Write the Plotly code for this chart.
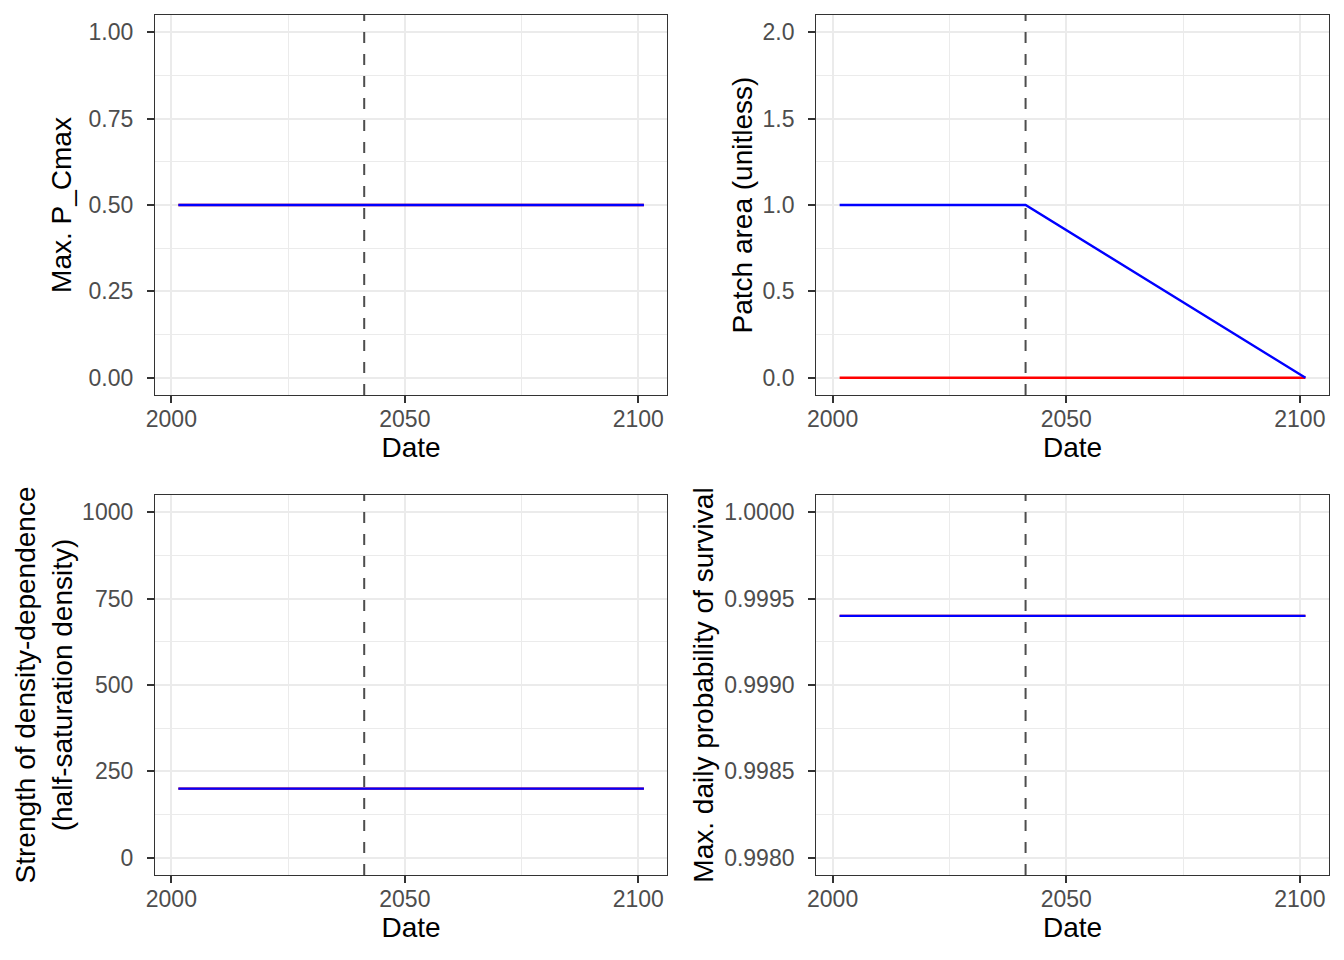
import plotly.graph_objects as go
from plotly.subplots import make_subplots

# ---- data ----
years = [2001.5, 2041.3, 2101.2]
change_year = 2041.3

pcmax_red = [0.5, 0.5, 0.5]
pcmax_blue = [0.5, 0.5, 0.5]

patch_red = [0.0, 0.0, 0.0]
patch_blue = [1.0, 1.0, 0.0]

halfsat_red = [200, 200, 200]
halfsat_blue = [200, 200, 200]

surv_red = [0.9994, 0.9994, 0.9994]
surv_blue = [0.9994, 0.9994, 0.9994]

x_ticks = [2000, 2050, 2100]
x_minor = [2025, 2075]

panels = [
    dict(red=pcmax_red, blue=pcmax_blue, title="Max. P_Cmax",
         ticks=[0, 0.25, 0.5, 0.75, 1.0], minor=[0.125, 0.375, 0.625, 0.875],
         fmt=".2f", rng=[-0.05, 1.05], standoff=8),
    dict(red=patch_red, blue=patch_blue, title="Patch area (unitless)",
         ticks=[0, 0.5, 1.0, 1.5, 2.0], minor=[0.25, 0.75, 1.25, 1.75],
         fmt=".1f", rng=[-0.1, 2.1], standoff=1),
    dict(red=halfsat_red, blue=halfsat_blue,
         title="Strength of density-dependence<br>(half-saturation density)",
         ticks=[0, 250, 500, 750, 1000], minor=[125, 375, 625, 875],
         fmt="d", rng=[-50, 1050], standoff=1),
    dict(red=surv_red, blue=surv_blue, title="Max. daily probability of survival",
         ticks=[0.998, 0.9985, 0.999, 0.9995, 1.0], minor=[0.99825, 0.99875, 0.99925, 0.99975],
         fmt=".4f", rng=[0.9979, 1.0001], standoff=1.5),
]

W, H = 1344, 960
x_dom = [[147 / W, 662.7 / W], [812.7 / W, 1328.7 / W]]
y_dom = [[1 - 395 / H, 1 - 15 / H], [1 - 875 / H, 1 - 495 / H]]

fig = make_subplots(rows=2, cols=2)

FONT = "Liberation Sans, Arial, sans-serif"
GRID = "#EBEBEB"
BORDER = "#333333"

for i, p in enumerate(panels):
    r, c = i // 2 + 1, i % 2 + 1
    fig.add_trace(go.Scatter(x=years, y=p["red"], mode="lines",
                             line=dict(color="red", width=2.4), showlegend=False),
                  row=r, col=c)
    fig.add_trace(go.Scatter(x=years, y=p["blue"], mode="lines",
                             line=dict(color="blue", width=2.4), showlegend=False),
                  row=r, col=c)
    fig.add_vline(x=change_year, line=dict(color="#4D4D4D", width=2, dash="11px,11px"),
                  row=r, col=c)

    common = dict(showline=True, mirror=True, linecolor=BORDER, linewidth=1.3,
                  ticks="outside", ticklen=7, tickwidth=1.5, tickcolor=BORDER,
                  tickfont=dict(family=FONT, size=23, color="#4D4D4D"),
                  showgrid=True, gridcolor=GRID, gridwidth=2, zeroline=False)
    fig.update_xaxes(range=[1996.5, 2106.2], tickvals=x_ticks,
                     ticklabelstandoff=-4,
                     minor=dict(tickvals=x_minor, showgrid=True, gridcolor=GRID, gridwidth=1),
                     domain=x_dom[c - 1],
                     title=dict(text="Date", font=dict(family=FONT, size=28, color="black"),
                                standoff=6),
                     **common, row=r, col=c)
    fig.update_yaxes(range=p["rng"], tickvals=p["ticks"], tickformat=p["fmt"],
                     ticklabelstandoff=9,
                     minor=dict(tickvals=p["minor"], showgrid=True, gridcolor=GRID, gridwidth=1),
                     domain=y_dom[r - 1],
                     title=dict(text=p["title"], font=dict(family=FONT, size=28, color="black"),
                                standoff=p["standoff"]),
                     **common, row=r, col=c)

fig.update_layout(width=W, height=H, margin=dict(l=0, r=0, t=0, b=0),
                  paper_bgcolor="white", plot_bgcolor="white",
                  font=dict(family=FONT))

fig.write_html("out.html", config={"displayModeBar": False},
               post_script="document.body.style.margin='0';")
